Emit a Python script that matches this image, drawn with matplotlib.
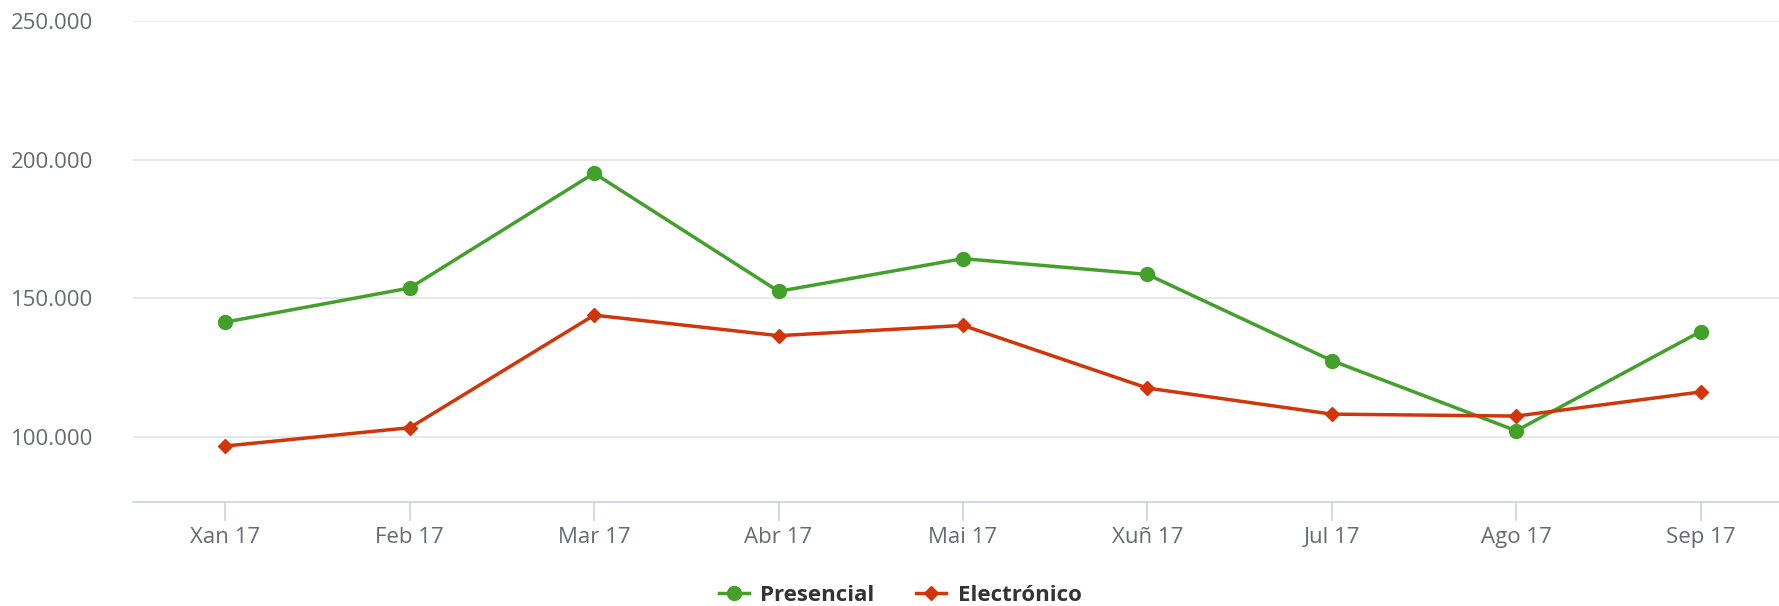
import numpy as np
import matplotlib.pyplot as plt
from matplotlib.ticker import FuncFormatter

months = ['Xan 17', 'Feb 17', 'Mar 17', 'Abr 17', 'Mai 17', 'Xuñ 17', 'Jul 17', 'Ago 17', 'Sep 17']
presencial = [141400, 153700, 195100, 152500, 164300, 158600, 127500, 102200, 138000]
electronico = [96700, 103300, 143900, 136500, 140200, 117600, 108200, 107500, 116200]

plt.rcParams['font.family'] = ['Open Sans', 'DejaVu Sans']

green = '#43a02a'
red = '#d23508'
txt = '#666a73'

fig = plt.figure(figsize=(17.79, 6.06), dpi=100)
ax_left = 0.0748
ax = fig.add_axes([ax_left, 0.1716, 0.933, 0.7937])

x = np.arange(len(months))
ax.plot(x, presencial, color=green, lw=2.5, marker='o', markersize=10, label='Presencial', zorder=3)
ax.plot(x, electronico, color=red, lw=2.5, marker='D', markersize=7, label='Electrónico', zorder=3)

ax.set_xlim(-0.5, 8.5)
ax.set_ylim(76500, 250000)
ax.set_yticks([100000, 150000, 200000, 250000])
ax.yaxis.set_major_formatter(FuncFormatter(lambda v, p: '{:,.0f}'.format(v).replace(',', '.')))
ax.set_xticks(x)
ax.set_xticklabels(months)

ax.grid(axis='y', color='#e6e6e6', lw=1.3)
ax.set_axisbelow(True)
for s in ['top', 'right', 'left']:
    ax.spines[s].set_visible(False)
ax.spines['bottom'].set_color('#ccd6eb')
ax.spines['bottom'].set_linewidth(1.3)

ax.tick_params(axis='y', length=0, pad=0, labelsize=16, labelcolor=txt)
ax.tick_params(axis='x', length=14, width=1.3, color='#ccd6eb', pad=4, labelsize=16, labelcolor=txt)
for lbl in ax.get_yticklabels():
    lbl.set_horizontalalignment('left')
    lbl.set_x(-ax_left / 0.933 + 0.0064)

leg = fig.legend(loc='center', bbox_to_anchor=(0.506, 0.018), ncol=2, frameon=False,
                 prop={'weight': 'bold', 'size': 16}, handlelength=1.35, columnspacing=1.9,
                 handletextpad=0.5, markerscale=1.0)
for t in leg.get_texts():
    t.set_color('#333333')

fig.savefig('out.png', dpi=100)
